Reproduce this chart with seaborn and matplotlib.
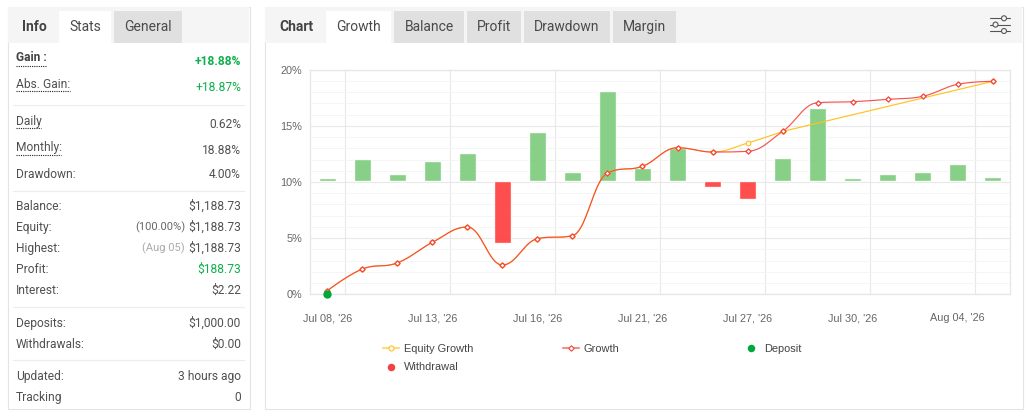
import numpy as np
import pandas as pd
import matplotlib
matplotlib.use("Agg")
import matplotlib.pyplot as plt
from matplotlib.patches import Rectangle, Circle
import seaborn as sns

# ---------- data ----------
positions = list(range(20))
tick_positions = [0, 3, 6, 9, 12, 15, 18]
tick_labels = ["Jul 08, '26", "Jul 13, '26", "Jul 16, '26", "Jul 21, '26",
               "Jul 27, '26", "Jul 30, '26", "Aug 04, '26"]
growth = [0.32, 2.25, 2.80, 4.63, 5.99, 2.61, 4.95, 5.22, 10.80, 11.40,
          13.05, 12.67, 12.73, 14.50, 17.06, 17.15, 17.36, 17.63, 18.70, 18.96]
equity_positions = [0, 1, 2, 3, 4, 5, 6, 7, 8, 9, 10, 11, 12, 13, 19]
equity = [0.32, 2.25, 2.80, 4.63, 5.99, 2.61, 4.95, 5.22, 10.80, 11.40,
          13.05, 12.67, 13.47, 14.50, 18.96]
bars = [0.17, 1.36, 0.43, 1.24, 1.74, -3.92, 3.05, 0.55, 5.61, 0.80,
        2.05, -0.40, -1.15, 1.43, 4.55, 0.17, 0.43, 0.55, 1.05, 0.24]
deposit_position = [0]
deposit_value = [0.0]
y_ticks = [0, 5, 10, 15, 20]
y_tick_labels = ["0%", "5%", "10%", "15%", "20%"]

stats_rows = [
    ("Gain :", "+18.88%", 57, 61, True),
    ("Abs. Gain:", "+18.87%", 84, 87, False),
    ("Daily", "0.62%", 121, 124, False),
    ("Monthly:", "18.88%", 147, 150, False),
    ("Drawdown:", "4.00%", 173.5, 173.5, False),
    ("Balance:", "$1,188.73", 205.7, 205.7, False),
    ("Equity:", "$1,188.73", 226.7, 226.7, False),
    ("Highest:", "$1,188.73", 247.7, 247.7, False),
    ("Profit:", "$188.73", 268.7, 268.7, False),
    ("Interest:", "$2.22", 289.7, 289.7, False),
    ("Deposits:", "$1,000.00", 322.7, 322.7, False),
    ("Withdrawals:", "$0.00", 343.7, 343.7, False),
    ("Updated:", "3 hours ago", 375.7, 375.7, False),
    ("Tracking", "0", 396.7, 396.7, False),
]
left_tabs = [("Stats", 59, 111, "#ffffff"), ("General", 114, 182, "#e0e0e0")]
right_tabs = [("Growth", 326, 391, "#ffffff"), ("Balance", 394, 464, "#e0e0e0"),
              ("Profit", 467, 521, "#e0e0e0"), ("Drawdown", 524, 610, "#e0e0e0"),
              ("Margin", 613, 676, "#e0e0e0")]

# ---------- helpers ----------
def spline_curve(xv, yv, steps=24):
    """Smooth Bezier path through the given points (chart-style spline)."""
    out_x, out_y = [xv[0]], [yv[0]]
    n = len(xv)
    def controls(i):
        x, y = xv[i], yv[i]
        if i == 0 or i == n - 1:
            return x, y, x, y
        px, py, nx, ny = xv[i-1], yv[i-1], xv[i+1], yv[i+1]
        lx, ly = (1.5*x + px)/2.5, (1.5*y + py)/2.5
        rx, ry = (1.5*x + nx)/2.5, (1.5*y + ny)/2.5
        c = (ry - ly)*(rx - x)/(rx - lx) + y - ry
        ly += c; ry += c
        if ly > py and ly > y:
            ly = max(py, y); ry = 2*y - ly
        elif ly < py and ly < y:
            ly = min(py, y); ry = 2*y - ly
        if ry > ny and ry > y:
            ry = max(ny, y); ly = 2*y - ry
        elif ry < ny and ry < y:
            ry = min(ny, y); ly = 2*y - ry
        return lx, ly, rx, ry
    for i in range(n - 1):
        _, _, c1x, c1y = controls(i)
        c2x, c2y, _, _ = controls(i + 1)
        t = np.linspace(0, 1, steps + 1)[1:]
        out_x.extend((1-t)**3*xv[i] + 3*(1-t)**2*t*c1x + 3*(1-t)*t**2*c2x + t**3*xv[i+1])
        out_y.extend((1-t)**3*yv[i] + 3*(1-t)**2*t*c1y + 3*(1-t)*t**2*c2y + t**3*yv[i+1])
    return out_x, out_y

sns.set_theme(style="white")
plt.rcParams["font.family"] = ["Roboto", "DejaVu Sans"]

W, H = 1029, 417
fig = plt.figure(figsize=(W/100, H/100), dpi=100, facecolor="white")

# ---------- page furniture in pixel coordinates ----------
page = fig.add_axes([0, 0, 1, 1], zorder=0)
page.set_xlim(0, W); page.set_ylim(H, 0); page.axis("off")

def rect(x0, y0, x1, y1, fc, ec="none", lw=0, z=1):
    page.add_patch(Rectangle((x0, y0), x1-x0, y1-y0, fc=fc, ec=ec, lw=lw, zorder=z))

def label(x, y, s, size=8.64, color="#505050", ha="left", weight="normal", family="Roboto", dy=0.8):
    page.text(x, y + dy, s, fontsize=size, color=color, ha=ha, va="center", weight=weight,
              family=family, zorder=5)

for x0, x1 in [(7.5, 249.5), (264.5, 1022.5)]:
    rect(x0, 6.5, x1, 409, "white", "#e4e4e4", 0.8, 1)
    rect(x0+.5, 7, x1-.5, 43, "#f5f5f5", z=2)
for name, x0, x1, c in left_tabs + right_tabs:
    rect(x0, 11, x1, 43, c, z=3)
    label((x0+x1)/2, 26, name, size=10, ha="center", color="#4a4a4a")
label(34, 26, "Info", size=10, ha="center", color="#444444", weight="bold")
label(296, 26, "Chart", size=10, ha="center", color="#444444", weight="bold")

for y in (105.3, 190.7, 307.3, 360.3):
    page.plot([13, 244], [y, y], color="#ececec", lw=0.8, zorder=3)

for name, val, ly, vy, bold in stats_rows:
    w = "bold" if bold else "normal"
    vc = "#0cb04a" if val in ("+18.88%", "+18.87%", "$188.73") else "#505050"
    label(16, ly, name, color="#444444" if bold else "#505050", weight=w)
    label(241, vy, val, ha="right", color=vc, weight=w)
label(185, 226.9, "(100.00%)", size=8.0, ha="right", color="#666666")
label(185, 247.9, "(Aug 05)", size=8.0, ha="right", color="#aaaaaa")
for y, x1 in [(65.7, 46), (91, 70), (128, 41), (155, 61)]:
    page.plot([16, x1], [y, y], color="#222222", lw=0.8, ls=(0, (1, 1)), zorder=4)

# settings icon
for y, cx in [(18.3, 1004), (24.6, 995.5), (31, 1004)]:
    page.plot([990, 1010], [y, y], color="#555555", lw=0.8, zorder=4)
    page.add_patch(Circle((cx, y), 2.5, fc="#f5f5f5", ec="#555555", lw=0.8, zorder=5))

# ---------- chart ----------
L, R, T, B = 309.8, 1010.2, 69.7, 294.3
rect_ax = [L/W, 1 - B/H, (R-L)/W, (B-T)/H]
XL = (-0.5, 19.5)
BASE = 180.6

ax = fig.add_axes(rect_ax, zorder=1)
ax.patch.set_alpha(0)
ax.set_xlim(*XL); ax.set_ylim(0, 20)
ax.set_yticks(y_ticks, y_tick_labels)
ax.set_yticks(np.arange(0, 21, 1), minor=True)
ax.set_xticks(tick_positions, tick_labels)
ax.set_xticks([p + 0.5 for p in tick_positions], minor=True)
ax.grid(False)
ax.grid(True, which="minor", axis="y", color="#f5f5f5", lw=0.72)
ax.grid(True, which="major", axis="y", color="#e8e8e8", lw=0.8)
ax.grid(True, which="minor", axis="x", color="#e8e8e8", lw=0.8)
ax.set_axisbelow(True)
ax.tick_params(axis="both", which="both", length=0)
ax.tick_params(axis="y", pad=5.5, labelsize=7.8, labelcolor="#666666")
ax.tick_params(axis="x", pad=13.5, labelsize=7.8, labelcolor="#666666")
for t in ax.get_xticklabels() + ax.get_yticklabels():
    t.set_family("Liberation Sans")
for s in ax.spines.values():
    s.set_visible(True); s.set_color("#e6e6e6"); s.set_linewidth(0.9)

ax_bar = fig.add_axes(rect_ax, zorder=2)
ax_bar.patch.set_alpha(0)
bar_df = pd.DataFrame({"pos": positions, "value": bars,
                       "sign": ["up" if v >= 0 else "down" for v in bars]})
sns.barplot(data=bar_df, x="pos", y="value", hue="sign", dodge=False, width=0.48, ax=ax_bar,
            palette={"up": "#7fcc7f", "down": "#ff4040"}, alpha=0.93, legend=False, saturation=1)
ax_bar.set_xlim(*XL)
ax_bar.set_ylim(-(B-BASE)/16, (BASE-T)/16)
ax_bar.axis("off")

ax_line = fig.add_axes(rect_ax, zorder=3)
ax_line.patch.set_alpha(0)
ex, ey = spline_curve(equity_positions[:14], equity[:14])
ex += equity_positions[14:]; ey += equity[14:]
gx, gy = spline_curve(positions, growth)
sns.lineplot(x=ex, y=ey, sort=False, estimator=None, color="#ffc21f", lw=0.85, ax=ax_line)
sns.scatterplot(x=equity_positions, y=equity, marker="o", s=11, facecolor="white",
                edgecolor="#ffc21f", linewidth=0.8, ax=ax_line, zorder=4)
sns.lineplot(x=gx, y=gy, sort=False, estimator=None, color="#f4433c", lw=0.85, alpha=0.9, ax=ax_line, zorder=5)
sns.scatterplot(x=positions, y=growth, marker="D", s=7, facecolor="white",
                edgecolor="#f4433c", linewidth=0.9, ax=ax_line, zorder=6)
sns.scatterplot(x=deposit_position, y=deposit_value, marker="o", s=36, color="#00a83c",
                linewidth=0, ax=ax_line, zorder=7, clip_on=False)
ax_line.set_xlim(*XL); ax_line.set_ylim(0, 20)
ax_line.axis("off")

# ---------- legend ----------
LF = "Liberation Sans"
label(404, 348.3, "Equity Growth", size=7.9, family=LF, color="#444444", dy=0.3)
label(584, 348.3, "Growth", size=7.9, family=LF, color="#444444", dy=0.3)
label(764, 348.3, "Deposit", size=7.9, family=LF, color="#444444", dy=0.3)
label(404, 366.7, "Withdrawal", size=7.9, family=LF, color="#444444", dy=0.3)
page.plot([383, 399], [348.3, 348.3], color="#ffc21f", lw=1.5, alpha=0.6, zorder=4)
page.plot([391], [348.3], marker="o", ms=3.6, mfc="white", mec="#ffc21f", mew=0.8, zorder=5)
page.plot([563, 579], [348.3, 348.3], color="#f4433c", lw=1.5, alpha=0.6, zorder=4)
page.plot([571], [348.3], marker="D", ms=2.8, mfc="white", mec="#f4433c", mew=0.8, zorder=5)
page.plot([751], [348.3], marker="o", ms=5.4, color="#00a83c", mew=0, zorder=5)
page.plot([391], [366.7], marker="o", ms=5.4, color="#f44040", mew=0, zorder=5)

fig.savefig("out.png", dpi=100)
